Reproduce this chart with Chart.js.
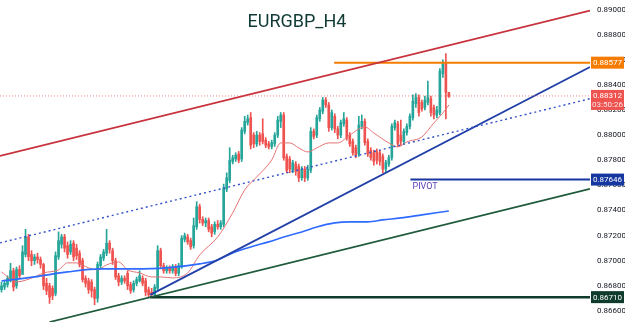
<!DOCTYPE html>
<html>
<head>
<meta charset="utf-8">
<title>EURGBP_H4</title>
<script src="https://cdn.jsdelivr.net/npm/chart.js@4.4.1/dist/chart.umd.min.js"></script>
<style>
    html, body { margin: 0; padding: 0; background: #fff; }
    #wrap { position: relative; width: 625px; height: 322px; }
</style>
</head>
<body>
<div id="wrap"><canvas id="fx"></canvas></div>
<script>
// EURGBP H4 candles, oldest first
const opens = [
    .8677, .8679, .8681, .8684, .8692, .8680, .8693, .8689, .8705, .8719,
    .8705, .8700, .8703, .8701, .8697, .8682, .8680, .8678, .8674, .8703,
    .8713, .8719, .8712, .8707, .8714, .8710, .8706, .8700, .8686, .8684,
    .8683, .8677, .8670, .8696, .8702, .8706, .8714, .8708, .8700, .8688,
    .8683, .8686, .8690, .8681, .8677, .8682, .8684, .8686, .8684, .8677,
    .8675, .8673, .8678, .8708, .8696, .8692, .8694, .8692, .8695, .8690,
    .8695, .8717, .8719, .8716, .8712, .8727, .8743, .8733, .8730, .8732,
    .8727, .8723, .8729, .8727, .8729, .8757, .8764, .8779, .8781, .8785,
    .8781, .8803, .8810, .8814, .8800, .8793, .8800, .8801, .8796, .8793,
    .8791, .8793, .8800, .8811, .8816, .8783, .8781, .8772, .8777, .8775,
    .8766, .8773, .8766, .8772, .8803, .8800, .8813, .8819, .8828, .8824,
    .8806, .8815, .8805, .8800, .8809, .8812, .8800, .8795, .8790, .8785,
    .8807, .8811, .8795, .8788, .8786, .8787, .8786, .8783, .8773, .8777,
    .8782, .8806, .8809, .8800, .8795, .8802, .8807, .8814, .8825, .8830,
    .8826, .8822, .8826, .8829, .8822, .8816, .8818, .8849, .8858, .8834
];
const highs = [
    .8683, .8684, .8688, .8698, .8694, .8695, .8696, .8712, .8725, .8721,
    .8708, .8705, .8706, .8703, .8698, .8686, .8682, .8680, .8707, .8723,
    .8721, .8721, .8715, .8716, .8716, .8713, .8708, .8702, .8688, .8686,
    .8685, .8679, .8699, .8705, .8709, .8725, .8716, .8710, .8702, .8690,
    .8688, .8688, .8692, .8683, .8684, .8687, .8692, .8688, .8686, .8679,
    .8678, .8681, .8712, .8710, .8698, .8696, .8696, .8697, .8697, .8698,
    .8720, .8722, .8721, .8718, .8734, .8747, .8745, .8735, .8734, .8734,
    .8729, .8731, .8732, .8732, .8761, .8770, .8790, .8784, .8786, .8787,
    .8806, .8815, .8816, .8818, .8802, .8803, .8802, .8813, .8798, .8795,
    .8796, .8802, .8815, .8818, .8818, .8785, .8783, .8780, .8779, .8777,
    .8775, .8775, .8776, .8806, .8805, .8816, .8822, .8830, .8830, .8826,
    .8820, .8817, .8807, .8812, .8818, .8814, .8802, .8797, .8792, .8815,
    .8816, .8813, .8797, .8790, .8788, .8789, .8788, .8785, .8780, .8784,
    .8809, .8812, .8811, .8812, .8805, .8809, .8817, .8832, .8833, .8832,
    .8828, .8831, .8843, .8831, .8824, .8823, .8853, .8860, .8865, .8834
];
const lows = [
    .8675, .8677, .8679, .8683, .8676, .8678, .8686, .8692, .8703, .8700,
    .8696, .8697, .8698, .8694, .8677, .8673, .8666, .8669, .8672, .8701,
    .8710, .8707, .8702, .8705, .8700, .8701, .8695, .8683, .8679, .8674,
    .8671, .8665, .8667, .8694, .8700, .8704, .8706, .8697, .8685, .8680,
    .8681, .8682, .8677, .8674, .8675, .8680, .8683, .8680, .8672, .8671,
    .8671, .8672, .8676, .8694, .8690, .8690, .8690, .8690, .8688, .8688,
    .8694, .8715, .8713, .8709, .8710, .8725, .8730, .8728, .8727, .8723,
    .8719, .8721, .8725, .8725, .8727, .8755, .8762, .8777, .8779, .8778,
    .8779, .8801, .8808, .8789, .8790, .8791, .8792, .8793, .8790, .8789,
    .8789, .8791, .8798, .8806, .8780, .8770, .8770, .8770, .8768, .8763,
    .8764, .8763, .8764, .8770, .8797, .8798, .8811, .8817, .8822, .8803,
    .8804, .8802, .8797, .8798, .8807, .8796, .8791, .8784, .8782, .8783,
    .8805, .8792, .8783, .8780, .8776, .8777, .8776, .8770, .8771, .8775,
    .8780, .8804, .8791, .8792, .8793, .8800, .8805, .8812, .8822, .8815,
    .8819, .8820, .8824, .8815, .8813, .8814, .8816, .8846, .8813, .8830
];
const closes = [
    .8680, .8682, .8686, .8692, .8679, .8693, .8688, .8707, .8719, .8703,
    .8700, .8703, .8701, .8697, .8680, .8676, .8671, .8672, .8704, .8716,
    .8719, .8710, .8705, .8713, .8703, .8704, .8697, .8685, .8682, .8677,
    .8676, .8670, .8697, .8703, .8707, .8714, .8709, .8700, .8687, .8683,
    .8686, .8684, .8680, .8676, .8682, .8685, .8688, .8682, .8675, .8673,
    .8673, .8679, .8708, .8696, .8692, .8694, .8692, .8695, .8690, .8696,
    .8718, .8720, .8715, .8711, .8728, .8743, .8733, .8730, .8732, .8725,
    .8722, .8729, .8727, .8730, .8758, .8766, .8780, .8782, .8784, .8780,
    .8804, .8811, .8813, .8792, .8793, .8800, .8795, .8795, .8792, .8791,
    .8794, .8800, .8812, .8816, .8782, .8772, .8773, .8778, .8771, .8766,
    .8773, .8766, .8773, .8803, .8799, .8814, .8820, .8828, .8824, .8806,
    .8818, .8805, .8800, .8810, .8813, .8798, .8793, .8786, .8784, .8808,
    .8811, .8794, .8785, .8782, .8779, .8780, .8779, .8773, .8778, .8782,
    .8807, .8810, .8793, .8795, .8803, .8807, .8815, .8827, .8830, .8818,
    .8821, .8828, .8830, .8818, .8816, .8820, .8851, .8858, .8834, .8831
];

// moving averages: [bar index, price]
const maFast = [
    [0, .86911], [5, .86831], [11, .86871], [14, .86903], [19, .86927], [22, .86983],
    [25, .86983], [29, .86943], [32, .86927], [35, .86967], [39, .86990], [42, .86927],
    [46, .86903], [50, .86871], [53, .86871], [57, .86863], [62, .86903], [66, .87046],
    [72, .87189], [77, .87381], [81, .87564], [85, .87667], [90, .87802], [93, .87938],
    [96, .87938], [99, .87898], [102, .87866], [105, .87898], [109, .87938], [112, .87938],
    [116, .88001], [121, .88065], [124, .88017], [129, .87938], [132, .87906], [135, .87946],
    [140, .87986], [144, .88097], [147, .88177], [149, .88240]
];
const maSlow = [
    [0, .86839], [11, .86871], [22, .86911], [33, .86935], [44, .86935], [55, .86943],
    [66, .86975], [72, .87006], [77, .87062], [83, .87110], [89, .87150], [94, .87189],
    [100, .87229], [105, .87269], [111, .87301], [116, .87309], [122, .87309], [127, .87325],
    [133, .87341], [140, .87365], [149, .87396]
];

// drawn lines: [start index, start price, end index, end price]
const channelTop = [-0.5, .87834, 196, .88991];
const channelMid = [-0.5, .87142, 196, .88290];
const trendBlue  = [49.5, .86728, 196, .88543];
const trendGreen = [16, .86512, 196, .87572];
const resistance = [110.8, .88577, 196, .88577];
const pivotLine  = [136.2, .87646, 196, .87646];
const supportLow = [49.5, .86710, 196, .86710];
const lastPrice  = [-0.5, .88312, 196, .88312];

const yTicks = [.866, .868, .870, .872, .874, .876, .878, .880, .882, .884, .886, .888, .890];
const titleText = 'EURGBP_H4';
const countdown = '03:50:26';

const UP = '#26a69a', DOWN = '#ef5350';
const barColors = closes.map((c, i) => c >= opens[i] ? UP : DOWN);

function seg(p, color, width, dash) {
    return {
        type: 'line',
        data: [{ x: p[0], y: p[1] }, { x: p[2], y: p[3] }],
        borderColor: color, borderWidth: width, borderDash: dash || [],
        pointRadius: 0, fill: false, order: 0
    };
}
function ma(points, color, width) {
    return {
        type: 'line',
        data: points.map(p => ({ x: p[0], y: p[1] })),
        borderColor: color, borderWidth: width,
        pointRadius: 0, fill: false, order: 0,
        cubicInterpolationMode: 'monotone'
    };
}

const tags = [
    { value: resistance[1], text: '0.88577', bg: '#f57c00' },
    { value: pivotLine[1], text: '0.87646', bg: '#1737a0' },
    { value: supportLow[1], text: '0.86710', bg: '#0e3b2c' }
];

const overlay = {
    id: 'overlay',
    afterDraw(chart) {
        const { ctx, chartArea, scales: { x, y } } = chart;
        ctx.save();
        ctx.font = '18px Roboto, "Liberation Sans", sans-serif';
        ctx.fillStyle = '#0f3a35';
        ctx.textAlign = 'center';
        ctx.textBaseline = 'middle';
        ctx.fillText(titleText, 297, 22);

        ctx.font = '9px Roboto, sans-serif';
        ctx.fillStyle = '#5b3db5';
        ctx.textAlign = 'left';
        ctx.fillText('PIVOT', x.getPixelForValue(pivotLine[0]) + 2, y.getPixelForValue(pivotLine[1]) + 7);

        const bx = chartArea.right + 1, bw = 33;
        ctx.font = '8px Roboto, sans-serif';
        ctx.textAlign = 'center';
        tags.forEach(t => {
            const py = y.getPixelForValue(t.value);
            ctx.fillStyle = t.bg;
            ctx.fillRect(bx, py - 6, bw, 12);
            ctx.fillStyle = '#fff';
            ctx.fillText(t.text, bx + bw / 2, py + 0.5);
        });
        const ly = y.getPixelForValue(lastPrice[1]);
        ctx.fillStyle = '#ef5350';
        ctx.fillRect(bx, ly - 6, bw, 20);
        ctx.fillStyle = '#fff';
        ctx.fillText('0.88312', bx + bw / 2, ly + 0.5);
        ctx.fillStyle = '#fde3e3';
        ctx.fillText(countdown, bx + bw / 2, ly + 9);
        ctx.restore();
    }
};

new Chart(document.getElementById('fx'), {
    type: 'bar',
    data: {
        datasets: [
            seg(lastPrice, 'rgba(239,83,80,0.7)', 1, [1, 2]),
            seg(channelTop, '#c8323c', 1.8),
            seg(channelMid, '#3553c8', 1.4, [2, 3]),
            seg(trendBlue, '#2240a8', 1.8),
            seg(trendGreen, '#1f5a3a', 1.8),
            seg(resistance, '#f57c00', 2),
            seg(pivotLine, '#1737a0', 2),
            seg(supportLow, '#0e3b2c', 2.5),
            ma(maSlow, '#2f6bff', 1.6),
            ma(maFast, '#e57373', 1),
            {
                data: closes.map((c, i) => ({ x: i, y: [lows[i], highs[i]] })),
                backgroundColor: barColors, barThickness: 1, grouped: false, order: 2
            },
            {
                data: closes.map((c, i) => ({ x: i, y: [opens[i], c] })),
                backgroundColor: barColors, barThickness: 2, minBarLength: 1, grouped: false, order: 1
            }
        ]
    },
    options: {
        responsive: true,
        maintainAspectRatio: false,
        animation: false,
        layout: { padding: 0 },
        plugins: { legend: { display: false }, tooltip: { enabled: false }, title: { display: false } },
        scales: {
            x: { type: 'linear', min: -0.5, max: 196, display: false, offset: false },
            y: {
                position: 'right', min: .86512, max: .89076,
                grid: { display: false, drawTicks: false },
                border: { display: false },
                afterBuildTicks: axis => { axis.ticks = yTicks.map(v => ({ value: v })); },
                afterFit: axis => { axis.width = 35; axis.paddingTop = 0; axis.paddingBottom = 0; },
                ticks: {
                    padding: 7, color: '#131722',
                    font: { size: 8, family: 'Roboto, sans-serif' },
                    callback: v => v.toFixed(5)
                }
            }
        }
    },
    plugins: [overlay]
});
</script>
</body>
</html>
